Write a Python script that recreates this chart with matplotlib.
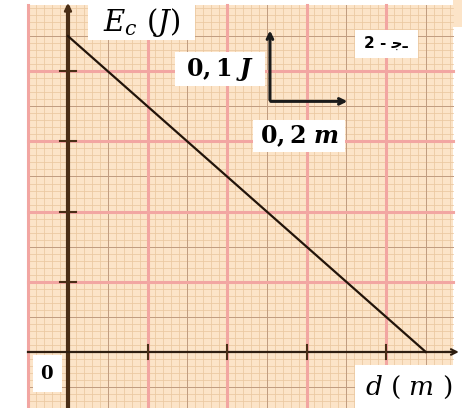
import numpy as np
import matplotlib.pyplot as plt
from matplotlib.patches import Rectangle

# data
d_m = [0, 0.9]          # distance d (m)
ec_j = [0.45, 0]        # kinetic energy Ec (J)
x_ticks = [0.2, 0.4, 0.6, 0.8]
y_ticks = [0.1, 0.2, 0.3, 0.4]

paper = '#fce4c8'
minor_c = '#ebc8a0'
mid_c = '#c09c80'
major_c = '#f2a6a2'
axis_c = '#4a2e16'


def white_box(ax, x0, x1, y0, y1):
    ax.add_patch(Rectangle((x0, y0), x1 - x0, y1 - y0, facecolor='white',
                           edgecolor='none', zorder=4))


fig = plt.figure(figsize=(4.62, 4.08), dpi=100)
ax = fig.add_axes([0, 0, 1, 1])
ax.set_xlim(-0.171, 0.991)
ax.set_ylim(-0.0798, 0.5014)
ax.axis('off')

# graph paper
x_lo, x_hi = -0.1, 0.9686
y_lo, y_hi = -0.0798, 0.494
ax.add_patch(Rectangle((x_lo, y_lo), x_hi - x_lo, y_hi - y_lo, facecolor=paper,
                       edgecolor='none', zorder=0))
ax.add_patch(Rectangle((x_hi, 0.463), 0.991 - x_hi, 0.04, facecolor=paper,
                       edgecolor='none', zorder=0))

for xv in np.arange(-0.1, 0.97, 0.02):
    ax.plot([xv, xv], [y_lo, y_hi], color=minor_c, lw=0.55, zorder=1)
for yv in np.arange(-0.08, 0.495, 0.01):
    ax.plot([x_lo, x_hi], [yv, yv], color=minor_c, lw=0.55, zorder=1)

for xv in [0.1, 0.3, 0.5, 0.7, 0.9]:
    ax.plot([xv, xv], [y_lo, y_hi], color=mid_c, lw=0.7, zorder=1.5)
for yv in [-0.05, 0.05, 0.15, 0.25, 0.35, 0.45]:
    ax.plot([x_lo, x_hi], [yv, yv], color=mid_c, lw=0.7, zorder=1.5)

for xv in [-0.1, 0.2, 0.4, 0.6, 0.8]:
    ax.plot([xv, xv], [y_lo, y_hi], color=major_c, lw=2.2, zorder=2)
for yv in [0.1, 0.2, 0.3, 0.4]:
    ax.plot([x_lo, x_hi], [yv, yv], color=major_c, lw=2.2, zorder=2)

# axes with arrows
ax.plot([0, 0], [y_lo, 0.49], color=axis_c, lw=3, zorder=3)
ax.annotate('', xy=(0, 0.5014), xytext=(0, 0.47),
            arrowprops=dict(arrowstyle='->', color=axis_c, lw=2), zorder=3)
ax.plot([-0.1, 0.97], [0, 0], color='#2e1e10', lw=1.6, zorder=3)
ax.annotate('', xy=(0.99, 0), xytext=(0.94, 0),
            arrowprops=dict(arrowstyle='->', color='#2e1e10', lw=1.5), zorder=3)

for t in y_ticks:
    ax.plot([-0.021, 0.021], [t, t], color=axis_c, lw=1.5, zorder=3)
for t in x_ticks:
    ax.plot([t, t], [-0.01, 0.01], color=axis_c, lw=1.5, zorder=3)

# Ec = f(d)
ax.plot(d_m, ec_j, color='#22140a', lw=1.6, zorder=3)

# scale indicator
ax.annotate('', xy=(0.508, 0.462), xytext=(0.508, 0.355),
            arrowprops=dict(arrowstyle='->', color='#1a1a1a', lw=2.2), zorder=3)
ax.annotate('', xy=(0.71, 0.357), xytext=(0.503, 0.357),
            arrowprops=dict(arrowstyle='->', color='#1a1a1a', lw=2.2), zorder=3)

# labels
white_box(ax, 0.050, 0.320, 0.444, 0.497)
ax.text(0.186, 0.470, r'$E_c\ (J)$', fontsize=21, ha='center', va='center',
        zorder=5, math_fontfamily='dejavuserif')
white_box(ax, 0.269, 0.496, 0.379, 0.427)
ax.text(0.382, 0.403, r'$\mathbf{0,1\ }\boldsymbol{J}$', fontsize=17, ha='center',
        va='center', zorder=5, math_fontfamily='dejavuserif')
white_box(ax, 0.465, 0.697, 0.285, 0.330)
ax.text(0.581, 0.307, r'$\mathbf{0,2\ }\boldsymbol{m}$', fontsize=17, ha='center',
        va='center', zorder=5, math_fontfamily='dejavuserif')
white_box(ax, 0.722, 0.880, 0.419, 0.459)
ax.text(0.80, 0.440, '2 - \ufe9f\u0640', fontsize=11, fontweight='bold', ha='center',
        va='center', zorder=5)
white_box(ax, -0.088, -0.015, -0.057, -0.004)
ax.text(-0.052, -0.032, r'$\mathbf{0}$', fontsize=13, ha='center', va='center',
        zorder=5, math_fontfamily='dejavuserif')
white_box(ax, 0.722, 0.991, -0.0798, -0.0185)
ax.text(0.856, -0.050, r'$d\ (\ m\ )$', fontsize=19, ha='center', va='center',
        zorder=5, math_fontfamily='dejavuserif')

fig.savefig('out.png', dpi=100)
